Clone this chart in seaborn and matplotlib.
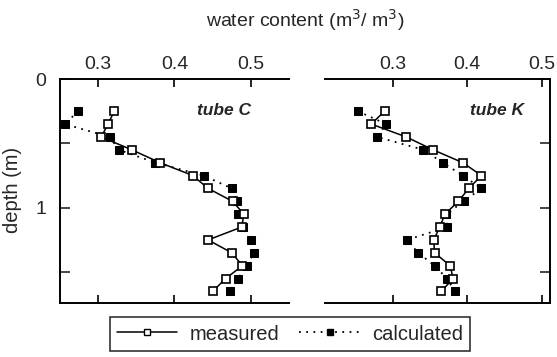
import matplotlib
matplotlib.use("Agg")
import matplotlib.pyplot as plt
from matplotlib.lines import Line2D
import seaborn as sns
import pandas as pd

depth = [0.25, 0.35, 0.45, 0.55, 0.65, 0.75, 0.85, 0.95, 1.05, 1.15, 1.25, 1.35, 1.45, 1.55, 1.65]

c_measured = [0.321, 0.313, 0.304, 0.344, 0.381, 0.424, 0.444, 0.476, 0.491, 0.488, 0.444, 0.475, 0.489, 0.467, 0.450]
c_calculated = [0.274, 0.256, 0.315, 0.327, 0.375, 0.438, 0.475, 0.482, 0.483, 0.490, 0.500, 0.504, 0.495, 0.483, 0.473]

k_measured = [0.289, 0.271, 0.318, 0.354, 0.394, 0.419, 0.402, 0.388, 0.370, 0.363, 0.355, 0.356, 0.377, 0.381, 0.365]
k_calculated = [0.253, 0.291, 0.279, 0.341, 0.367, 0.394, 0.419, 0.395, 0.372, 0.373, 0.319, 0.334, 0.356, 0.373, 0.383]

x_ticks = [0.3, 0.4, 0.5]
y_ticks = [0, 0.5, 1, 1.5]
y_ticklabels = ["0", "", "1", ""]

sns.set_style("ticks")
plt.rcParams["font.family"] = ["Liberation Sans", "DejaVu Sans"]

fig = plt.figure(figsize=(5.57, 3.57), dpi=100)
axL = fig.add_axes([60/557, 1-303/357, (289-60)/557, (303-79)/357])
axR = fig.add_axes([325/557, 1-303/357, (550-325)/557, (303-79)/357])

panels = [
    (axL, c_measured, c_calculated, "tube C", (0.25, 0.55), 0.835),
    (axR, k_measured, k_calculated, "tube K", (0.209, 0.511), 0.885),
]

for ax, meas, calc, title, xlim, tx in panels:
    df_m = pd.DataFrame({"wc": meas, "depth": depth})
    df_c = pd.DataFrame({"wc": calc, "depth": depth})
    sns.lineplot(data=df_c, x="wc", y="depth", sort=False, estimator=None, ax=ax,
                 color="black", linestyle=(0, (1, 3)), linewidth=1.3,
                 marker="s", markersize=5.2, markerfacecolor="black",
                 markeredgecolor="black", zorder=2)
    sns.lineplot(data=df_m, x="wc", y="depth", sort=False, estimator=None, ax=ax,
                 color="black", linestyle="-", linewidth=1.1,
                 marker="s", markersize=6, markerfacecolor="white",
                 markeredgecolor="black", markeredgewidth=1.2, zorder=3)
    ax.set_xlim(*xlim)
    ax.set_ylim(1.74, 0)
    ax.set_xticks(x_ticks)
    ax.set_xticklabels([f"{v:.1f}" for v in x_ticks])
    ax.set_yticks(y_ticks)
    ax.set_xlabel("")
    ax.set_ylabel("")
    ax.tick_params(axis="x", which="both", direction="in", top=True, bottom=True,
                   labeltop=True, labelbottom=False, length=6, width=1.2,
                   labelsize=14, pad=4, color="black")
    for sp in ax.spines.values():
        sp.set_linewidth(1.4)
        sp.set_color("black")
    ax.text(tx, 0.86, title, transform=ax.transAxes, ha="right", va="center",
            fontsize=12.5, fontweight="bold", fontstyle="italic")

axL.spines["right"].set_visible(False)
axL.tick_params(axis="y", direction="in", left=True, right=False, labelleft=True,
                length=7, width=1.2, labelsize=14, pad=10)
axL.set_yticklabels(y_ticklabels)

axR.spines["left"].set_visible(False)
axR.tick_params(axis="y", direction="in", left=False, right=True, labelleft=False,
                labelright=False, length=7, width=1.2)

fig.text(305/557, 1-20/357, "water content (m$^3$/ m$^3$)", ha="center", va="center",
         fontsize=14)
fig.text(13/557, 1-190/357, "depth (m)", ha="center", va="center", rotation=90,
         fontsize=14.5)

handles = [
    Line2D([], [], color="black", linestyle="-", linewidth=1.1, marker="s",
           markersize=5, markerfacecolor="white", markeredgecolor="black"),
    Line2D([], [], color="black", linestyle=(0, (1, 3)), linewidth=1.3, marker="s",
           markersize=5, markerfacecolor="black", markeredgecolor="black"),
]
leg = fig.legend(handles, ["measured", "calculated"], loc="center",
                 bbox_to_anchor=(290/557, 1-334/357), ncol=2, frameon=True,
                 fancybox=False, edgecolor="black", fontsize=14.5,
                 handlelength=3.0, columnspacing=1.0, borderpad=0.35,
                 handletextpad=0.6, numpoints=1)
leg.get_frame().set_linewidth(1.2)

fig.savefig("out.png", dpi=100)
